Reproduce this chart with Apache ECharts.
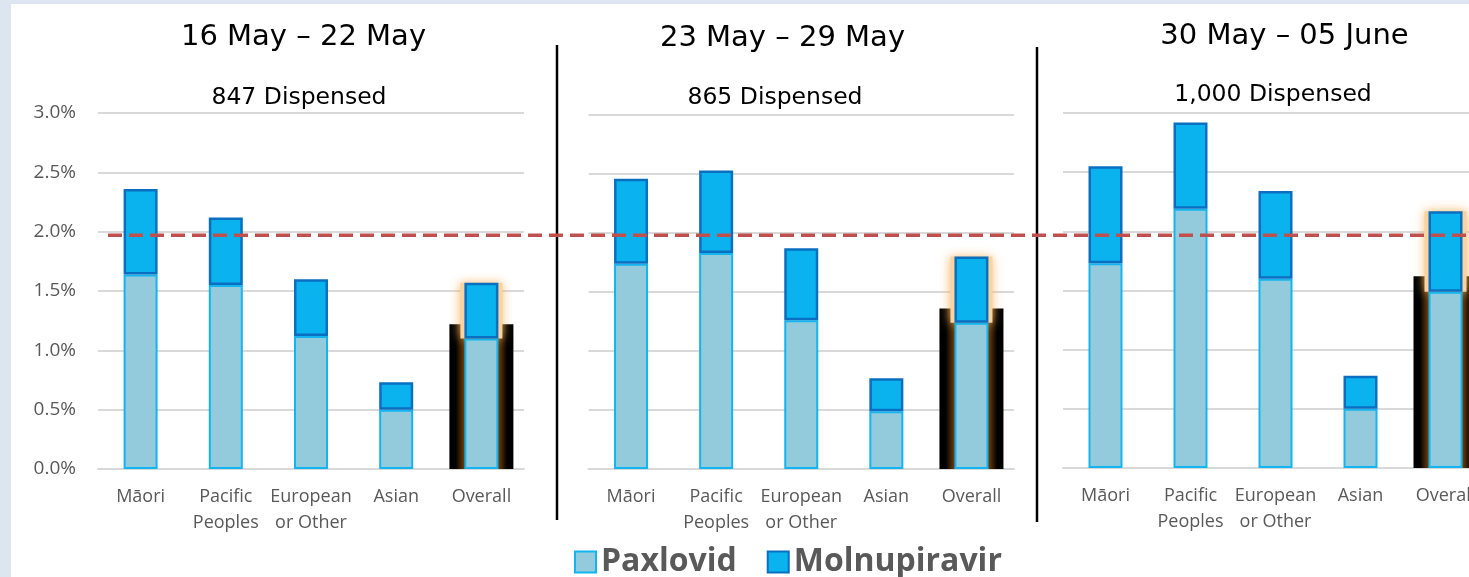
<!DOCTYPE html>
<html>
<head>
<meta charset="utf-8">
<title>Antiviral dispensing by ethnicity</title>
<script src="https://cdn.jsdelivr.net/npm/echarts@6.0.0/dist/echarts.min.js"></script>
<style>
    html, body { margin: 0; padding: 0; background: #dde6f0; }
    .content { position: relative; width: 1469px; height: 577px; overflow: hidden; }
    .sheet { position: absolute; left: 11px; top: 4px; right: 0; bottom: 0; background: #fff; }
    #main { position: absolute; left: 0; top: 0; width: 1469px; height: 577px; }
</style>
</head>
<body>
<div class="content">
    <div class="sheet"></div>
    <div id="main"></div>
</div>
<script>
// categories and labels
const categories = ['Māori', 'Pacific\nPeoples', 'European\nor Other', 'Asian', 'Overall'];
const weeks = ['16 May – 22 May', '23 May – 29 May', '30 May – 05 June'];
const dispensed = ['847 Dispensed', '865 Dispensed', '1,000 Dispensed'];
const yTickLabels = ['0.0%', '0.5%', '1.0%', '1.5%', '2.0%', '2.5%', '3.0%'];

// Paxlovid rate (%) per week
const paxWeek1 = [1.64, 1.55, 1.12, 0.50, 1.10];
const paxWeek2 = [1.74, 1.83, 1.26, 0.49, 1.24];
const paxWeek3 = [1.73, 2.19, 1.60, 0.50, 1.49];

// Molnupiravir rate (%) per week, stacked on top of Paxlovid
const molWeek1 = [0.72, 0.57, 0.48, 0.23, 0.47];
const molWeek2 = [0.72, 0.70, 0.61, 0.28, 0.56];
const molWeek3 = [0.82, 0.73, 0.74, 0.28, 0.68];

// dark highlight box behind "Overall" (value it reaches)
const overallBox = [1.22, 1.36, 1.62];

// red dashed reference line
const threshold = 1.97;

const paxAll = [paxWeek1, paxWeek2, paxWeek3];
const molAll = [molWeek1, molWeek2, molWeek3];

// panel layout (px)
const panels = [
    { left: 98, top: 113, width: 426, height: 356, title: [303.5, 37.5], sub: [299, 98] },
    { left: 588.5, top: 115, width: 425.5, height: 354, title: [782.5, 38], sub: [775, 98] },
    { left: 1063, top: 113, width: 425, height: 355, title: [1284.5, 36], sub: [1273, 95] }
];

let myChart = echarts.init(document.getElementById('main'));

let grids = [];
let xAxes = [];
let yAxes = [];
let series = [];
let graphics = [];

const onlyOverall = (v, k) => k === 4 ? v : '-';

panels.forEach((p, i) => {
    grids.push({ left: p.left, top: p.top, width: p.width, height: p.height, outerBoundsMode: 'none' });

    // visible category axis
    xAxes.push({
        type: 'category',
        gridIndex: i,
        data: categories,
        axisLine: { show: true, lineStyle: { color: '#d9d9d9', width: 2 } },
        axisTick: { show: false },
        axisLabel: {
            interval: 0,
            color: '#595959',
            fontFamily: 'Open Sans',
            fontSize: 18,
            lineHeight: 26,
            margin: 15
        }
    });
    // hidden axes: wide box behind "Overall", and the orange glow
    xAxes.push({ type: 'category', gridIndex: i, data: categories, show: false });
    xAxes.push({ type: 'category', gridIndex: i, data: categories, show: false });

    yAxes.push({
        type: 'value',
        gridIndex: i,
        min: 0,
        max: 3,
        interval: 0.5,
        axisLine: { show: false },
        axisTick: { show: false },
        splitLine: { lineStyle: { color: '#d9d9d9', width: 2 } },
        axisLabel: i === 0 ? {
            color: '#595959',
            fontFamily: 'Open Sans',
            fontSize: 19,
            margin: 22,
            formatter: v => yTickLabels[Math.round(v / 0.5)]
        } : { show: false }
    });

    series.push({
        name: 'box',
        type: 'bar',
        xAxisIndex: i * 3 + 1,
        yAxisIndex: i,
        barWidth: 64,
        z: 1,
        silent: true,
        data: categories.map((c, k) => k === 4 ? overallBox[i] : '-'),
        itemStyle: {
            color: new echarts.graphic.LinearGradient(0, 0, 1, 0, [
                { offset: 0, color: '#000000' },
                { offset: 0.1, color: '#000000' },
                { offset: 0.23, color: '#6b3c0a' },
                { offset: 0.77, color: '#6b3c0a' },
                { offset: 0.9, color: '#000000' },
                { offset: 1, color: '#000000' }
            ])
        }
    });

    // glow around the Overall Molnupiravir segment (drawn underneath)
    series.push({
        name: 'glow-base',
        type: 'bar',
        stack: 'glow' + i,
        xAxisIndex: i * 3 + 2,
        yAxisIndex: i,
        barWidth: 42,
        z: 1,
        silent: true,
        data: paxAll[i].map(onlyOverall),
        itemStyle: { color: 'rgba(0,0,0,0)' }
    });
    series.push({
        name: 'glow',
        type: 'bar',
        stack: 'glow' + i,
        xAxisIndex: i * 3 + 2,
        yAxisIndex: i,
        barWidth: 42,
        z: 1,
        silent: true,
        data: molAll[i].map(onlyOverall),
        itemStyle: { color: '#f9d3a0', shadowBlur: 10, shadowColor: 'rgba(245, 175, 90, 0.9)' }
    });

    series.push({
        name: 'Paxlovid',
        type: 'bar',
        stack: 'week' + i,
        xAxisIndex: i * 3,
        yAxisIndex: i,
        barWidth: 34,
        z: 2,
        data: paxAll[i],
        itemStyle: { color: '#94cbdc', borderColor: '#12b5f0', borderWidth: 2 }
    });

    series.push({
        name: 'Molnupiravir',
        type: 'bar',
        stack: 'week' + i,
        xAxisIndex: i * 3,
        yAxisIndex: i,
        barWidth: 34,
        z: 2,
        data: molAll[i],
        itemStyle: { color: '#0ab3ee', borderColor: '#0a6fc0', borderWidth: 2.5 }
    });

    // week heading and dispensed count
    graphics.push({
        type: 'text',
        x: p.title[0],
        y: p.title[1],
        style: {
            text: weeks[i],
            font: '29px "DejaVu Sans"',
            fill: '#000',
            align: 'center',
            verticalAlign: 'middle',
            textAlign: 'center',
            textVerticalAlign: 'middle'
        }
    });
    graphics.push({
        type: 'text',
        x: p.sub[0],
        y: p.sub[1],
        style: {
            text: dispensed[i],
            font: '23.5px "DejaVu Sans"',
            fill: '#000',
            align: 'center',
            verticalAlign: 'middle',
            textAlign: 'center',
            textVerticalAlign: 'middle'
        }
    });
});

// overlay grid for the dashed line running across all panels
grids.push({ left: 108, right: 0, top: 113, height: 356, outerBoundsMode: 'none' });
xAxes.push({ type: 'value', gridIndex: 3, min: 0, max: 1, show: false });
yAxes.push({ type: 'value', gridIndex: 3, min: 0, max: 3, show: false });
series.push({
    type: 'line',
    xAxisIndex: 9,
    yAxisIndex: 3,
    data: [[0, threshold], [1, threshold]],
    symbol: 'none',
    silent: true,
    z: 5,
    lineStyle: { color: '#c0504d', width: 3.5, type: [14, 7] }
});

// vertical dividers between weeks
graphics.push({
    type: 'line',
    shape: { x1: 557, y1: 45, x2: 557, y2: 520 },
    style: { stroke: '#000', lineWidth: 2.5 }
});
graphics.push({
    type: 'line',
    shape: { x1: 1037, y1: 47, x2: 1037, y2: 522 },
    style: { stroke: '#000', lineWidth: 2.5 }
});

let option = {
    animation: false,
    grid: grids,
    xAxis: xAxes,
    yAxis: yAxes,
    legend: {
        data: ['Paxlovid', 'Molnupiravir'],
        left: 574,
        top: 546,
        padding: 0,
        itemWidth: 21,
        itemHeight: 21,
        itemGap: 30,
        icon: 'rect',
        selectedMode: false,
        textStyle: {
            fontFamily: 'Open Sans',
            fontWeight: 'bold',
            fontSize: 32,
            color: '#595959'
        }
    },
    graphic: graphics,
    series: series
};

myChart.setOption(option);
</script>
</body>
</html>
